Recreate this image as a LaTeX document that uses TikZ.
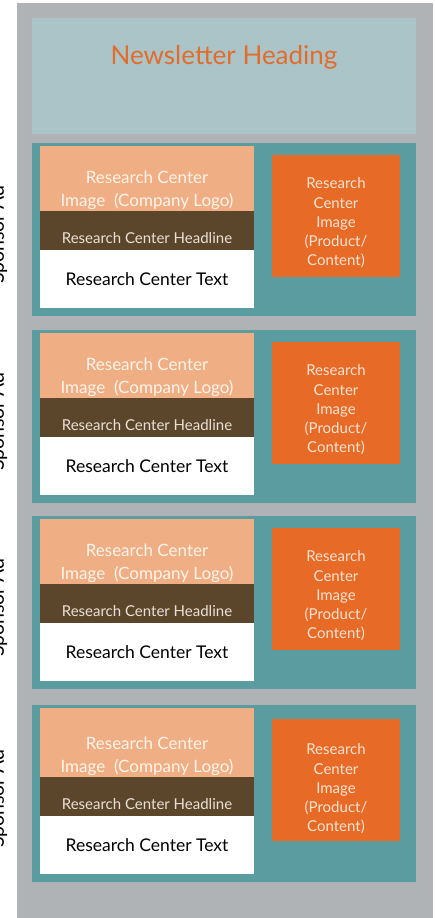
\documentclass[tikz,border=0pt]{standalone}
\usepackage{fontspec}
\setmainfont{Lato}
\usetikzlibrary{positioning}
\definecolor{pagegray}{HTML}{B0B3B6}
\definecolor{headblue}{HTML}{AAC4C8}
\definecolor{adteal}{HTML}{5B9CA1}
\definecolor{logopeach}{HTML}{F0AE84}
\definecolor{headbrown}{HTML}{5C462B}
\definecolor{picorange}{HTML}{E76A26}
\definecolor{titleorange}{HTML}{E46C2A}
\definecolor{logoink}{HTML}{FFF4EA}
\definecolor{headlineink}{HTML}{E9E1D5}
\definecolor{picink}{HTML}{FBE3D2}
\tikzset{
  panel/.style={anchor=north west, inner sep=0pt, outer sep=0pt, draw=none},
  titletext/.style={text=titleorange, font=\fontsize{26}{30}\selectfont},
  logotext/.style={text=logoink, align=center, inner sep=0pt, font=\fontsize{17}{23}\selectfont},
  headlinetext/.style={text=headlineink, inner sep=0pt, font=\fontsize{15}{16}\selectfont},
  bodytext/.style={text=black, inner sep=0pt, font=\fontsize{17.5}{20}\selectfont},
  pictext/.style={text=picink, align=center, inner sep=0pt, font=\fontsize{15}{19.25}\selectfont},
  sponsortext/.style={text=black, inner sep=0pt, font=\fontsize{19.5}{22}\selectfont}
}

\begin{document}
\begin{tikzpicture}[x=1pt,y=-1pt]
\useasboundingbox (0,0) rectangle (435,918);
\fill[pagegray] (17,3) rectangle (433,918);
% heading
\node[panel, fill=headblue, minimum width=384, minimum height=116] (head) at (32,18) {};
\node[titletext, anchor=base] (title) at (224,64) {Newsletter Heading};
% sponsor ad blocks
\foreach \ty/\th/\dy [count=\i] in {143/173/0, 330/173/0, 516/173/0, 705/177/4} {
  \pgfmathsetmacro{\ph}{65+\dy}
  \node[panel, fill=adteal, minimum width=384, minimum height=\th] (ad\i) at (32,\ty) {};
  \node[panel, fill=logopeach, minimum width=214, minimum height=\ph] (logo\i) at (40,\ty+3) {};
  \node[panel, fill=headbrown, minimum width=214, minimum height=39, below=0pt of logo\i] (headline\i) {};
  \node[panel, fill=white, minimum width=214, minimum height=58, below=0pt of headline\i] (body\i) {};
  \node[panel, fill=picorange, minimum width=128, minimum height=122] (pic\i) at (272,\ty+12+\dy/2) {};
  \node[logotext] (logolabel\i) at (147,\ty+47+\dy) {Research Center\\Image\ \ (Company Logo)};
  \node[headlinetext, anchor=base] (headlinelabel\i) at (147,\ty+100+\dy) {Research Center Headline};
  \node[bodytext, anchor=base] (bodylabel\i) at (147,\ty+142+\dy) {Research Center Text};
  \node[pictext] (piclabel\i) at (336,\ty+80+\dy) {Research\\Center\\Image\\(Product/\\Content)};
  \node[sponsortext, rotate=90, anchor=base] (sponsor\i) at (4,\ty+\th/2+5) {Sponsor Ad};
}
\end{tikzpicture}
\end{document}
